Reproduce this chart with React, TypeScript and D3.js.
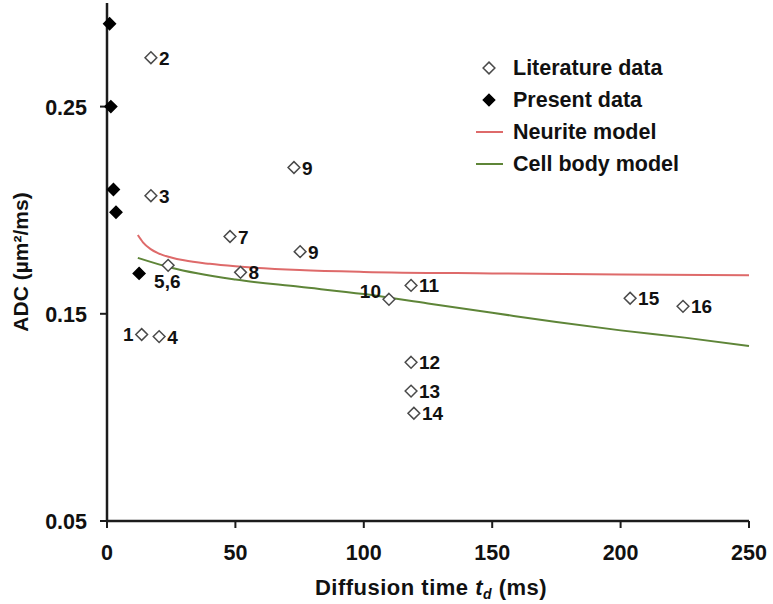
import React from 'react';
import * as d3 from 'd3';

// literature data points (diffusion time in ms, ADC in µm²/ms)
const literatureTd = [13.5, 17.1, 17.1, 20.3, 23.8, 47.9, 52, 72.8, 75.2, 109.8, 118.4, 118.4, 118.4, 119.5, 203.7, 224.3];
const literatureAdc = [0.140, 0.2736, 0.207, 0.139, 0.1734, 0.1873, 0.170, 0.2206, 0.180, 0.157, 0.1637, 0.1266, 0.1127, 0.102, 0.1575, 0.1536];
const literatureLabels = ['1', '2', '3', '4', '5,6', '7', '8', '9', '9', '10', '11', '12', '13', '14', '15', '16'];

// present data
const presentTd = [1, 1.5, 2.5, 3.5, 12.5];
const presentAdc = [0.290, 0.250, 0.210, 0.199, 0.1695];

// model curves
const neuriteTd = [12, 14, 17, 20, 25, 30, 40, 50, 75, 100, 150, 200, 250];
const neuriteAdc = [0.188, 0.1845, 0.1812, 0.1792, 0.1772, 0.1758, 0.1741, 0.1729, 0.1711, 0.1702, 0.1695, 0.169, 0.1686];
const cellTd = [12, 25, 50, 75, 100, 125, 150, 175, 200, 225, 250];
const cellAdc = [0.177, 0.1722, 0.1665, 0.163, 0.1595, 0.155, 0.1505, 0.146, 0.142, 0.1385, 0.1345];

const xTicks = [0, 50, 100, 150, 200, 250];
const yTicks = [0.05, 0.15, 0.25];

const width = 773;
const height = 604;
const font = '"Liberation Sans", Arial, sans-serif';

const diamond = d3.symbol().type(d3.symbolDiamond2).size(88);

const App = () => {
  const x = d3.scaleLinear().domain([0, 250]).range([107, 749]);
  const y = d3.scaleLinear().domain([0.05, 0.30]).range([521, 3]);

  const neuritePath = d3.line<number>()
    .curve(d3.curveMonotoneX)
    .x((d, i) => x(neuriteTd[i]))
    .y(d => y(d))(neuriteAdc);
  const cellPath = d3.line<number>()
    .curve(d3.curveMonotoneX)
    .x((d, i) => x(cellTd[i]))
    .y(d => y(d))(cellAdc);

  const red = '#de6a6a';
  const green = '#5e8538';
  const axisColor = '#1c1c1c';

  return (
    <svg width={width} height={height} style={{ position: 'absolute', left: 0, top: 0, fontFamily: font, fontWeight: 'bold' }}>
      <rect width={width} height={height} fill="white" />

      {/* model curves */}
      <path d={neuritePath} fill="none" stroke={red} strokeWidth={2} />
      <path d={cellPath} fill="none" stroke={green} strokeWidth={2} />

      {/* axes */}
      <line x1={x(0)} x2={x(0)} y1={y(0.30)} y2={y(0.05)} stroke={axisColor} strokeWidth={2.5} />
      <line x1={x(0)} x2={x(250)} y1={y(0.05)} y2={y(0.05)} stroke={axisColor} strokeWidth={2.5} />
      {xTicks.map(t => (
        <g key={'x' + t}>
          <line x1={x(t)} x2={x(t)} y1={y(0.05)} y2={y(0.05) + 7} stroke={axisColor} strokeWidth={2} />
          <text x={x(t)} y={560} textAnchor="middle" fontSize={21.5} fill="#111">{t}</text>
        </g>
      ))}
      {yTicks.map(t => (
        <g key={'y' + t}>
          <line x1={x(0) - 7} x2={x(0)} y1={y(t)} y2={y(t)} stroke={axisColor} strokeWidth={2} />
          <text x={87} y={y(t) + 8} textAnchor="end" fontSize={21.5} fill="#111">{d3.format('.2f')(t)}</text>
        </g>
      ))}

      {/* axis titles */}
      <text x={431} y={595} textAnchor="middle" fontSize={22} letterSpacing={0.5} fill="#111">
        Diffusion time <tspan fontStyle="italic">t</tspan>
        <tspan fontStyle="italic" fontSize={14} dy={4}>d</tspan>
        <tspan dy={-4}> (ms)</tspan>
      </text>
      <text transform={`translate(28, 262) rotate(-90)`} textAnchor="middle" fontSize={21} fill="#111">
        ADC (µm²/ms)
      </text>

      {/* literature points */}
      {literatureTd.map((t, i) => {
        const cx = x(t);
        const cy = y(literatureAdc[i]);
        const lab = literatureLabels[i];
        let lx = cx + 8, ly = cy + 7, anchor = 'start';
        if (lab === '1' || lab === '10') { lx = cx - 8; anchor = 'end'; ly = cy + 6; }
        if (lab === '10') ly = cy - 1;
        if (lab === '5,6') { lx = cx - 14; ly = cy + 23; }
        return (
          <g key={'l' + i}>
            <path d={diamond()} transform={`translate(${cx},${cy})`} fill="white" stroke="#4a4a4a" strokeWidth={1.5} />
            <text x={lx} y={ly} textAnchor={anchor} fontSize={19} fill="#111">{lab}</text>
          </g>
        );
      })}

      {/* present points */}
      {presentTd.map((t, i) => (
        <path key={'p' + i} d={diamond()} transform={`translate(${x(t)},${y(presentAdc[i])})`} fill="#000" stroke="#000" strokeWidth={1.5} />
      ))}

      {/* legend */}
      <g fontSize={21.5} fill="#111">
        <path d={diamond()} transform="translate(489,68)" fill="white" stroke="#4a4a4a" strokeWidth={1.5} />
        <text x={513} y={75}>Literature data</text>
        <path d={diamond()} transform="translate(489,100)" fill="#000" stroke="#000" strokeWidth={1.2} />
        <text x={513} y={107}>Present data</text>
        <line x1={476} x2={503} y1={132} y2={132} stroke={red} strokeWidth={2} />
        <text x={513} y={139}>Neurite model</text>
        <line x1={476} x2={503} y1={164} y2={164} stroke={green} strokeWidth={2} />
        <text x={513} y={171}>Cell body model</text>
      </g>
    </svg>
  );
};

export default App;
